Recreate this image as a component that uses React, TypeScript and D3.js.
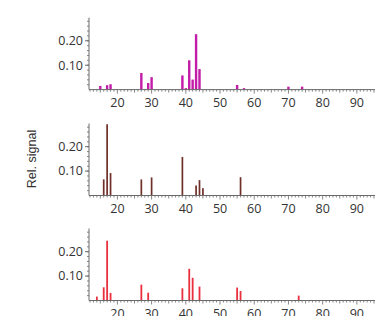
import React from "react";
import * as d3 from "d3";

// m/z positions and relative signals for each spectrum
const mzA = [15, 17, 18, 27, 29, 30, 39, 40, 41, 42, 43, 44, 55, 57, 70, 74];
const sigA = [0.015, 0.018, 0.022, 0.068, 0.027, 0.051, 0.058, 0.006, 0.12, 0.041, 0.227, 0.084, 0.019, 0.006, 0.012, 0.012];

const mzB = [16, 17, 18, 27, 30, 39, 43, 44, 45, 56];
const sigB = [0.066, 0.292, 0.092, 0.066, 0.074, 0.158, 0.041, 0.063, 0.03, 0.075];

const mzC = [14, 16, 17, 18, 27, 29, 39, 41, 42, 44, 55, 56, 73];
const sigC = [0.016, 0.054, 0.245, 0.031, 0.065, 0.032, 0.05, 0.13, 0.093, 0.057, 0.053, 0.039, 0.02];

const xTickLabels = [20, 30, 40, 50, 60, 70, 80, 90];
const yTickLabels = [0.1, 0.2];

const W = 376;
const H = 316;
const axisLeft = 89;
const axisRight = 375;
const plotH = 72;

const x = d3.scaleLinear().domain([11.7, 95.3]).range([axisLeft, axisRight]);

const panels = [
  { mz: mzA, sig: sigA, color: "#c21ca8", barW: 2.4, base: 89.6 },
  { mz: mzB, sig: sigB, color: "#70302a", barW: 1.7, base: 195.5 },
  { mz: mzC, sig: sigC, color: "#e8303f", barW: 1.8, base: 300.5 },
];

const axisColor = "#6a6a6a";
const labelFont = "'Open Sans', sans-serif";

function Panel({ mz, sig, color, barW, base }: any) {
  const y = d3.scaleLinear().domain([0, 0.295]).range([base, base - plotH]);
  const [xd0, xd1] = x.domain();
  const xMinor = d3.range(Math.ceil(xd0), Math.floor(xd1) + 1);
  const yMinor = d3.range(0.02, 0.295, 0.02);
  return (
    <g>
      {mz.map((m: number, i: number) => (
        <rect
          key={i}
          x={x(m) - barW / 2}
          y={y(sig[i])}
          width={barW}
          height={base - y(sig[i])}
          fill={color}
        />
      ))}
      {/* y axis */}
      <line x1={axisLeft} x2={axisLeft} y1={base - plotH} y2={base} stroke={axisColor} strokeWidth={1} />
      {yMinor.map((v, i) => (
        <line key={i} x1={axisLeft - 2} x2={axisLeft} y1={y(v)} y2={y(v)} stroke={axisColor} strokeWidth={0.8} />
      ))}
      {yTickLabels.map((v) => (
        <g key={v}>
          <line x1={axisLeft - 4} x2={axisLeft} y1={y(v)} y2={y(v)} stroke={axisColor} strokeWidth={1} />
          <text
            x={axisLeft - 6}
            y={y(v)}
            dy="0.35em"
            textAnchor="end"
            fontSize={12.5}
            fontFamily={labelFont}
            fill="#333"
          >
            {d3.format(".2f")(v)}
          </text>
        </g>
      ))}
      {/* x axis */}
      <line x1={axisLeft} x2={axisRight} y1={base} y2={base} stroke={axisColor} strokeWidth={1} />
      {xMinor.map((v) => (
        <line
          key={v}
          x1={x(v)}
          x2={x(v)}
          y1={base}
          y2={base + (v % 10 === 0 ? 4 : v % 5 === 0 ? 3 : 2)}
          stroke={axisColor}
          strokeWidth={0.8}
        />
      ))}
      {xTickLabels.map((v) => (
        <text
          key={v}
          x={x(v)}
          y={base + 17.5}
          textAnchor="middle"
          fontSize={12.5}
          fontFamily={labelFont}
          fill="#333"
        >
          {v}
        </text>
      ))}
    </g>
  );
}

export default function App() {
  return (
    <svg
      width={W}
      height={H}
      style={{ position: "absolute", left: 0, top: 0, background: "#fff" }}
    >
      {panels.map((p, i) => (
        <Panel key={i} {...p} />
      ))}
      <text
        transform="translate(36,159) rotate(-90)"
        textAnchor="middle"
        fontSize={12.5}
        fontFamily="'Liberation Sans', Arial, sans-serif"
        fill="#333"
      >
        Rel. signal
      </text>
    </svg>
  );
}
